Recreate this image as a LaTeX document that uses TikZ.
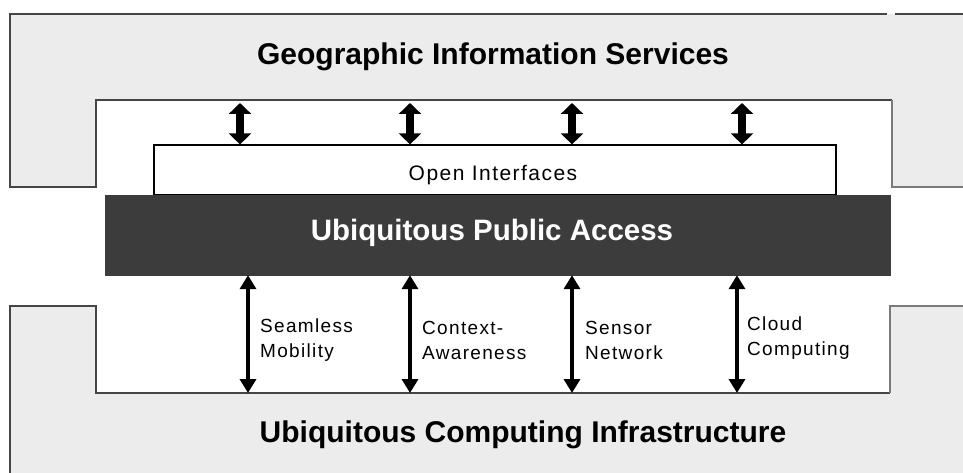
\documentclass[tikz,border=0pt]{standalone}
\usepackage{fontspec}
\setmainfont{Liberation Sans}
\newfontfamily\spacedfont[LetterSpace=7]{Liberation Sans}
\usetikzlibrary{arrows.meta}
\definecolor{panelgray}{HTML}{ECECEC}
\definecolor{edgegray}{HTML}{454545}
\definecolor{softedge}{HTML}{7A7A7A}
\definecolor{accessdark}{HTML}{3C3C3C}
\tikzset{
  edge/.style={draw=edgegray, line width=1.8pt},
  softline/.style={draw=softedge, line width=1.8pt},
  title/.style={font=\fontsize{30}{34}\selectfont\bfseries, inner sep=0pt},
  caption/.style={font=\spacedfont\fontsize{19}{25}\selectfont, align=left, anchor=west, inner sep=0pt},
  linkarrow/.style={line width=4pt, {Triangle[width=16pt,length=14pt]}-{Triangle[width=16pt,length=14pt]}},
  bigarrow/.style={line width=8pt, {Triangle[width=22pt,length=11pt]}-{Triangle[width=22pt,length=11pt]}},
}
\begin{document}
\begin{tikzpicture}[x=1pt, y=-1pt]
\useasboundingbox (0,0) rectangle (963,473);
\fill[white] (0,0) rectangle (963,473);

% upper service layer (open towards the right edge)
\fill[panelgray] (10,14) -- (970,14) -- (970,187) -- (892,187) -- (892,100)
  -- (96,100) -- (96,187) -- (10,187) -- cycle;
\draw[edge] (887,14) -- (10,14) -- (10,187) -- (96,187) -- (96,100) -- (892,100);
\draw[edge] (895,14) -- (970,14);
\draw[softline] (892,100) -- (892,187) -- (970,187);

% lower infrastructure layer
\fill[panelgray] (10,480) -- (10,306) -- (96,306) -- (96,393) -- (890,393)
  -- (890,306) -- (970,306) -- (970,480) -- cycle;
\draw[edge] (10,480) -- (10,306) -- (96,306) -- (96,393) -- (890,393);
\draw[softline] (890,393) -- (890,306) -- (970,306);

% layer titles
\node[title] (gis) at (493,57) {Geographic Information Services};
\node[title] (uci) at (523,435) {Ubiquitous Computing Infrastructure};

% interface and access boxes
\node[draw=black, line width=1.2pt, fill=white, minimum width=682pt, minimum height=50pt,
  inner sep=0pt] (oi) at (495,170) {};
\node[font=\spacedfont\fontsize{21}{24}\selectfont, inner sep=0pt] (oitext) at (493,175) {Open Interfaces};
\node[fill=accessdark, draw=accessdark, minimum width=785pt, minimum height=80pt,
  inner sep=0pt] (upa) at (497.5,235) {};
\node[title, text=white, font=\fontsize{29.5}{34}\selectfont\bfseries] (upatext) at (492,233) {Ubiquitous Public Access};

% service-side links
\foreach \i/\x in {1/240, 2/410, 3/572, 4/742} {
  \coordinate (t\i) at (\x,103);
  \draw[bigarrow] (t\i) -- (t\i |- oi.north);
}

% infrastructure-side links
\foreach \i/\x in {1/248, 2/410, 3/572, 4/737} {
  \coordinate (b\i) at (\x,393);
  \draw[linkarrow] (b\i |- upa.south) -- (b\i);
}

% link captions
\node[caption] (c1) at (260,340) {Seamless\\Mobility};
\node[caption] (c2) at (422,340) {Context-\\Awareness};
\node[caption] (c3) at (585,340) {Sensor\\Network};
\node[caption] (c4) at (747,338) {Cloud\\Computing};
\end{tikzpicture}
\end{document}
